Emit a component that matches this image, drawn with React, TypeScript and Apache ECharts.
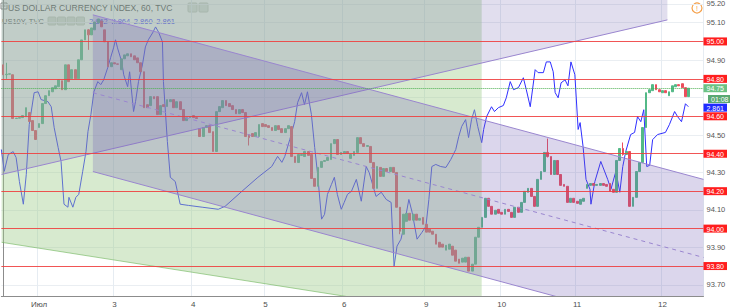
import React, { useEffect, useRef } from 'react';
import * as echarts from 'echarts';

const barCount = 214;
const dayLabelIdx = [11, 34, 58, 80, 104, 129, 152, 175, 201];
const dayLabels = ['Июл', '3', '4', '5', '6', '9', '10', '11', '12'];

// [open, close, low?, high?]
const candles: number[][] = [
[94.875,94.822],[94.822,94.825,94.80,94.886],[94.825,94.827],[94.822,94.588],[94.588,94.590],
[94.590,94.593],[94.593,94.604],[94.598,94.646],[94.620,94.572],[94.577,94.524],
[94.524,94.476],[94.540,94.561],[94.561,94.668],[94.668,94.710],[94.710,94.737],
[94.731,94.753],[94.747,94.763],[94.758,94.795],[94.790,94.742],[94.742,94.875],
[94.875,94.785],[94.801,94.849],[94.849,94.801],[94.801,94.902],[94.902,95.008],
[95.008,95.062],[95.062,95.035,94.955,95.066],[95.035,95.072],[95.062,95.104],[95.099,95.120],
[95.109,95.078],[95.062,94.998],[94.998,94.865],[94.865,94.886],[94.886,94.880],
[94.880,94.878],[94.849,94.907],[94.907,94.928],[94.923,94.934],[94.934,94.918],
[94.923,94.902],[94.912,94.886],[94.886,94.838],[94.838,94.646],[94.662,94.646],
[94.657,94.705],[94.705,94.694],[94.705,94.609],[94.609,94.657],[94.662,94.652],
[94.652,94.689],[94.678,94.689],[94.689,94.646],[94.646,94.678],[94.678,94.636],
[94.636,94.577],[94.577,94.593],[94.593,94.598],[94.604,94.593],[94.593,94.588],
[94.534,94.492],[94.492,94.540],[94.540,94.550],[94.550,94.513],[94.518,94.412],
[94.412,94.625],[94.625,94.652],[94.646,94.684],[94.684,94.657],[94.668,94.652],
[94.657,94.636],[94.636,94.614],[94.614,94.636],[94.636,94.620],[94.620,94.492],
[94.502,94.486,94.444,94.505],[94.508,94.492],[94.492,94.513],[94.492,94.556],[94.561,94.545],
[94.556,94.545],[94.550,94.540],[94.540,94.524],[94.524,94.550],[94.550,94.529],
[94.534,94.513],[94.513,94.534],[94.534,94.550],[94.545,94.385],[94.385,94.353],
[94.353,94.396],[94.391,94.396],[94.385,94.412],[94.412,94.391],[94.396,94.268],
[94.268,94.226],[94.226,94.327],[94.327,94.359],[94.359,94.364],[94.364,94.380],
[94.369,94.454],[94.454,94.476],[94.476,94.396],[94.396,94.407],[94.401,94.412],
[94.412,94.401],[94.375,94.396],[94.391,94.412],[94.407,94.486],[94.486,94.454],
[94.454,94.439],[94.439,94.444],[94.439,94.353],[94.353,94.215],[94.215,94.332],
[94.327,94.279],[94.279,94.321],[94.321,94.305],[94.305,94.327],[94.327,94.300],
[94.300,94.114],[94.114,93.986,93.970,94.114],[93.970,94.077],[94.039,94.082],[94.082,94.045],
[94.045,94.077],[94.077,94.045],[94.045,94.055],[94.060,94.023],[94.023,93.981],
[93.997,93.981],[93.986,93.970],[93.970,93.917],[93.927,93.901],[93.917,93.901],
[93.885,93.911],[93.890,93.917],[93.906,93.858],[93.885,93.826],[93.837,93.815],
[93.821,93.842],[93.821,93.847],[93.847,93.773],[93.773,93.810],[93.810,93.954],
[93.954,94.007],[94.007,94.060],[94.060,94.162],[94.162,94.119],[94.119,94.077],
[94.077,94.098],[94.103,94.082],[94.087,94.077],[94.077,94.103],[94.103,94.092],
[94.087,94.060],[94.060,94.114],[94.114,94.087],[94.087,94.140],[94.140,94.199],
[94.194,94.215],[94.215,94.172],[94.172,94.119],[94.119,94.263],[94.263,94.305],
[94.305,94.407],[94.407,94.385,94.380,94.481],[94.385,94.289],[94.289,94.364],[94.364,94.289],
[94.289,94.231],[94.236,94.226],[94.226,94.140],[94.140,94.162],[94.162,94.140],
[94.146,94.135],[94.130,94.156],[94.146,94.162],[94.215,94.236],[94.231,94.241],
[94.241,94.231],[94.231,94.236],[94.231,94.241],[94.241,94.231],[94.236,94.226],
[94.241,94.199],[94.210,94.194],[94.194,94.364],[94.364,94.428],[94.428,94.396,94.390,94.460],
[94.396,94.412],[94.412,94.119],[94.119,94.167],[94.167,94.305],[94.305,94.353],
[94.353,94.540],[94.540,94.726],[94.726,94.742],[94.737,94.769],[94.769,94.742],
[94.742,94.731],[94.726,94.737],[94.737,94.726],[94.710,94.731],[94.731,94.763],
[94.758,94.769],[94.769,94.763],[94.774,94.753],[94.753,94.705],[94.705,94.750],
];

// US10Y overlay: bar position (index units) and yield
const blueIdx = [-0.5,0.4,1.6,3.1,4.0,5.0,6.2,7.1,8.0,9.5,10.7,11.6,13.7,14.7,15.6,16.8,17.7,18.6,19.8,20.1,21.3,22.2,23.1,24.3,25.3,25.9,26.8,27.7,28.9,29.8,30.7,31.9,32.8,33.7,34.3,34.9,36.2,36.8,38.0,38.6,39.8,40.4,41.3,42.5,43.4,44.3,45.6,46.5,47.4,48.6,48.9,50.1,51.0,52.5,54.0,56.5,60.7,65.6,67.7,72.8,77.7,81.9,82.8,83.7,85.0,85.9,87.4,88.9,89.8,91.0,91.9,92.8,94.0,95.0,95.9,97.1,98.0,98.9,100.1,101.0,101.9,103.1,104.0,105.0,106.2,107.7,109.2,110.7,111.6,113.7,115.3,116.8,118.3,119.2,120.1,121.3,122.2,123.7,124.7,126.2,127.7,128.9,129.8,130.7,131.9,133.4,135.0,136.5,138.0,138.9,139.8,141.0,141.9,142.8,143.7,144.7,145.9,146.5,147.4,148.9,149.8,151.0,152.5,153.4,154.6,155.6,157.1,158.6,159.5,160.7,162.2,163.1,164.7,165.6,166.8,167.7,168.3,169.2,170.1,171.3,172.2,173.1,174.3,175.3,175.9,176.8,177.7,178.9,179.2,180.4,182.2,184.3,185.3,186.8,188.0,188.9,189.8,191.3,192.5,193.4,194.4,195.3,196.2,197.1,198.0,199.5,201.9,203.1,204.7,205.6,206.8,208.0,208.9];
const blueVal = [2.847,2.8397,2.8453,2.8463,2.8443,2.8363,2.8287,2.8387,2.8553,2.866,2.8663,2.8637,2.863,2.8613,2.8543,2.8477,2.843,2.8287,2.8277,2.831,2.8277,2.831,2.832,2.8397,2.8463,2.853,2.8587,2.8663,2.8697,2.8687,2.8703,2.8743,2.8777,2.881,2.8837,2.881,2.8763,2.872,2.868,2.873,2.8597,2.863,2.8697,2.8753,2.8813,2.8837,2.886,2.888,2.8863,2.883,2.8697,2.8497,2.8377,2.8363,2.8287,2.8283,2.8277,2.827,2.828,2.833,2.8377,2.8413,2.843,2.8447,2.8427,2.8447,2.8503,2.8563,2.8627,2.866,2.862,2.8663,2.8587,2.8477,2.8387,2.8237,2.8253,2.832,2.8353,2.8377,2.832,2.827,2.8293,2.832,2.833,2.837,2.8297,2.8413,2.8393,2.8313,2.8327,2.8303,2.8293,2.808,2.8147,2.817,2.8213,2.8303,2.826,2.817,2.8193,2.8213,2.8303,2.8413,2.842,2.8413,2.841,2.8437,2.847,2.8513,2.8547,2.857,2.851,2.857,2.8603,2.8547,2.8493,2.8537,2.858,2.8613,2.8597,2.861,2.8617,2.8643,2.8697,2.867,2.8677,2.871,2.867,2.8613,2.8737,2.8727,2.8727,2.8763,2.8763,2.873,2.866,2.8643,2.8693,2.8703,2.8683,2.8763,2.872,2.8537,2.856,2.848,2.837,2.8337,2.8287,2.8363,2.843,2.837,2.8337,2.8397,2.8327,2.8413,2.8463,2.852,2.8527,2.858,2.8563,2.8603,2.8413,2.8417,2.8503,2.852,2.8527,2.8553,2.8597,2.858,2.8563,2.8623,2.8613];

const priceTicks = [93.7, 93.8, 93.9, 94.0, 94.1, 94.2, 94.3, 94.4, 94.5, 94.6, 94.7, 94.8, 94.9, 95.0, 95.1, 95.2];
const coveredTicks = [94.7]; // hidden under the last-price / timer tags
const redLevels = [95.0, 94.8, 94.6, 94.4, 94.2, 94.0, 93.8];
const extraLevel = 93.955; // second "94.00" tag pushed below
const lastPrice = 94.75;
const lastTimer = '01:08';
const lastUs10y = 2.861;
const legendValues = ['2.862', '2.864', '2.860', '2.861'];

// drawings, in (bar index, price)
const greenZone = [[-0.5, 95.4], [145.9, 95.4], [145.9, 93.524], [-0.5, 93.927]];
const greenEdge = [[-0.5, 93.927], [145.9, 93.524]];
const risingBand = [[-0.5, 94.289], [202.5, 95.115], [202.5, 95.5], [-0.5, 95.5]];
const risingEdge = [[-0.5, 94.289], [202.5, 95.115]];
const channelTop = [[27.4, 95.142], [230, 94.185]];
const channelMid = [[27.4, 94.726], [230, 93.768]];
const channelBot = [[27.4, 94.305], [230, 93.347]];

const FONT = '"Liberation Sans", Arial, sans-serif';

export default function App() {
  const ref = useRef<HTMLDivElement>(null);
  useEffect(() => {
    const chart = echarts.init(ref.current!, null, { renderer: 'svg' });
    const cats = Array.from({ length: barCount }, (_, i) => {
      const k = dayLabelIdx.indexOf(i);
      return k >= 0 ? dayLabels[k] : '';
    });
    const ohlc = candles.map((d) => [d[0], d[1], d[2] ?? Math.min(d[0], d[1]), d[3] ?? Math.max(d[0], d[1])]);
    const isRed = (v: number) => redLevels.some((r) => Math.abs(r - v) < 1e-6);
    const labelTicks = priceTicks.filter((v) => !coveredTicks.some((c) => Math.abs(c - v) < 1e-6));
    const tag = { color: '#ffffff', padding: [1, 3, 0, 3], fontSize: 7, lineHeight: 7, fontFamily: FONT };
    const redLabel = { ...tag, backgroundColor: '#ff1e1e' };

    const option: any = {
      animation: false,
      textStyle: { fontFamily: FONT },
      grid: { left: 0, top: 0, right: 23, bottom: 11, containLabel: false },
      xAxis: [
        {
          type: 'category', data: cats, boundaryGap: true,
          axisLine: { show: true, lineStyle: { color: '#8c8c8c', width: 1 } },
          axisTick: { show: false },
          axisLabel: { interval: 0, fontSize: 8, color: '#4e4e4e', margin: 4, fontFamily: FONT },
          splitLine: { show: true, interval: (i: number) => dayLabelIdx.includes(i), lineStyle: { color: '#e6ecf2', width: 1 } },
        },
        { type: 'value', min: -0.5, max: barCount - 0.5, show: false },
      ],
      yAxis: [
        {
          type: 'value', position: 'right', min: 93.64, max: 95.2213,
          axisLine: { show: true, lineStyle: { color: '#8c8c8c', width: 1 } },
          axisTick: { show: false, customValues: priceTicks },
          splitLine: { show: true, lineStyle: { color: '#eaeef2', width: 1 } },
          axisLabel: {
            customValues: labelTicks, margin: 0,
            formatter: (v: number) => (isRed(v) ? `{r|${v.toFixed(2)}}` : `{g|${v.toFixed(2)}}`),
            rich: {
              r: redLabel,
              g: { color: '#555555', fontSize: 7.5, padding: [0, 0, 0, 3], fontFamily: FONT },
            },
          },
        },
        {
          type: 'value', position: 'right', min: 2.798, max: 2.897,
          axisLine: { show: false }, axisTick: { show: false, customValues: [lastUs10y] }, splitLine: { show: false },
          axisLabel: {
            customValues: [lastUs10y], margin: 0,
            formatter: (v: number) => `{b|${v.toFixed(3)}}`,
            rich: { b: { ...tag, backgroundColor: '#1f2bff' } },
          },
        },
      ],
      series: [
        {
          type: 'line', xAxisIndex: 1, yAxisIndex: 1, z: 2,
          data: blueIdx.map((x, i) => [x, blueVal[i]]),
          showSymbol: false, symbol: 'none',
          lineStyle: { color: '#2f2fff', width: 1 },
        },
        {
          type: 'candlestick', xAxisIndex: 0, yAxisIndex: 0, z: 2,
          data: ohlc, barWidth: 2.3,
          itemStyle: { color: '#53b987', color0: '#eb4d5c', borderColor: '#53b987', borderColor0: '#eb4d5c', borderWidth: 1 },
          markLine: {
            silent: true, symbol: ['none', 'none'], z: 6,
            data: [
              ...redLevels.map((v) => ({ yAxis: v, lineStyle: { color: '#f23a3a', width: 1, type: 'solid', opacity: 0.85 }, label: { show: false } })),
              {
                yAxis: lastPrice, lineStyle: { color: '#4caf50', width: 1, type: 'dotted' },
                label: { show: true, position: 'end', distance: 0, formatter: lastPrice.toFixed(2), ...tag, backgroundColor: '#6cc283' },
              },
              {
                yAxis: extraLevel, lineStyle: { opacity: 0 },
                label: { show: true, position: 'end', distance: 0, formatter: '94.00', ...redLabel },
              },
            ],
          },
        },
        {
          type: 'custom', xAxisIndex: 1, yAxisIndex: 0, z: 4, silent: true,
          data: [[0, 94.5]],
          renderItem: (params: any, api: any) => {
            const cs = params.coordSys;
            const pts = (arr: number[][]) => arr.map((p) => api.coord(p));
            const seg = (arr: number[][]) => { const p = pts(arr); return { x1: p[0][0], y1: p[0][1], x2: p[1][0], y2: p[1][1] }; };
            return {
              type: 'group',
              clipPath: { type: 'rect', shape: { x: cs.x, y: cs.y, width: cs.width, height: cs.height } },
              children: [
                { type: 'polygon', shape: { points: pts(greenZone) }, style: { fill: 'rgba(160,205,140,0.42)' } },
                { type: 'line', shape: seg(greenEdge), style: { stroke: 'rgba(110,180,90,0.6)', lineWidth: 1 } },
                { type: 'polygon', shape: { points: pts(risingBand) }, style: { fill: 'rgba(115,100,175,0.21)' } },
                { type: 'line', shape: seg(risingEdge), style: { stroke: '#9a86cf', lineWidth: 1 } },
                { type: 'polygon', shape: { points: pts([channelTop[0], channelTop[1], channelBot[1], channelBot[0]]) }, style: { fill: 'rgba(110,90,180,0.25)' } },
                { type: 'line', shape: seg(channelTop), style: { stroke: '#9a86cf', lineWidth: 1 } },
                { type: 'line', shape: seg(channelBot), style: { stroke: '#9a86cf', lineWidth: 1 } },
                { type: 'line', shape: seg(channelMid), style: { stroke: '#9a86cf', lineWidth: 1, lineDash: [4, 4] } },
              ],
            };
          },
        },
      ],
      graphic: [
        { type: 'rect', shape: { x: 1, y: 3, width: 6, height: 6 }, style: { fill: 'none', stroke: '#888', lineWidth: 1 } },
        { type: 'line', shape: { x1: 2.5, y1: 6, x2: 5.5, y2: 6 }, style: { stroke: '#888', lineWidth: 1 } },
        { type: 'text', x: 8, y: 7.5, style: { text: 'US DOLLAR CURRENCY INDEX, 60, TVC', fontSize: 8.6, fill: '#4a4a4a', fontFamily: FONT, verticalAlign: 'middle' } },
        { type: 'rect', shape: { x: 188, y: 3, width: 9, height: 9, r: 1 }, style: { fill: '#dfe5df', stroke: '#c5ccc5' } },
        { type: 'rect', shape: { x: 199, y: 3, width: 9, height: 9, r: 1 }, style: { fill: '#dfe5df', stroke: '#c5ccc5' } },
        { type: 'text', x: 2, y: 21, style: { text: 'US10Y, TVC', fontSize: 7.5, fill: '#555', fontFamily: FONT, verticalAlign: 'middle' } },
        { type: 'rect', shape: { x: 48, y: 17, width: 8, height: 8, r: 1 }, style: { fill: '#d9e0d7', stroke: '#c8cfc6' } },
        { type: 'rect', shape: { x: 57.5, y: 17, width: 8, height: 8, r: 1 }, style: { fill: '#d9e0d7', stroke: '#c8cfc6' } },
        { type: 'rect', shape: { x: 67, y: 17, width: 8, height: 8, r: 1 }, style: { fill: '#d9e0d7', stroke: '#c8cfc6' } },
        { type: 'rect', shape: { x: 76.5, y: 17, width: 8, height: 8, r: 1 }, style: { fill: '#d9e0d7', stroke: '#c8cfc6' } },
        ...legendValues.map((t, i) => ({ type: 'text', x: 89 + i * 22.4, y: 21, style: { text: t, fontSize: 7.5, fill: '#3535ff', fontFamily: FONT, verticalAlign: 'middle' } })),
        { type: 'circle', shape: { cx: 697, cy: 8, r: 5 }, style: { fill: 'none', stroke: '#f5a04a', lineWidth: 1.2 } },
        { type: 'text', x: 697, y: 8.5, style: { text: '!', fontSize: 7, fill: '#f5a04a', align: 'center', verticalAlign: 'middle', fontFamily: FONT } },
        { type: 'text', x: 708, y: 99, z: 100, style: { text: lastTimer, fontSize: 7, lineHeight: 7, fill: '#ffffff', backgroundColor: '#5aa872', padding: [1, 3, 0, 3], fontFamily: FONT, verticalAlign: 'middle' } },
      ],
    };
    chart.setOption(option);
    return () => chart.dispose();
  }, []);
  return <div ref={ref} style={{ position: 'absolute', left: 0, top: 0, width: 730, height: 308 }} />;
}
